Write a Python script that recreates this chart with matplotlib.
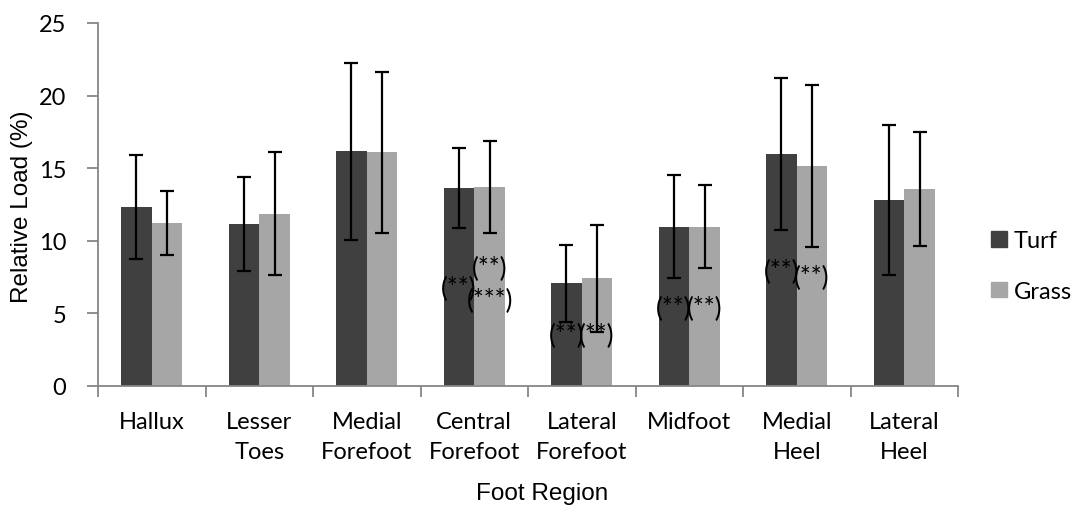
import numpy as np
from matplotlib import pyplot as plt
from matplotlib.patches import Patch

# relative load per foot region, mean and SD for both surfaces
regions = ["Hallux", "Lesser\nToes", "Medial\nForefoot", "Central\nForefoot",
           "Lateral\nForefoot", "Midfoot", "Medial\nHeel", "Lateral\nHeel"]
turf_mean = [12.3, 11.15, 16.15, 13.6, 7.05, 10.95, 15.95, 12.8]
turf_sd = [3.6, 3.25, 6.1, 2.75, 2.65, 3.55, 5.25, 5.2]
grass_mean = [11.2, 11.85, 16.1, 13.7, 7.4, 10.95, 15.15, 13.55]
grass_sd = [2.2, 4.25, 5.55, 3.2, 3.7, 2.85, 5.6, 3.95]

# significance marks: (region index, series, y position, text)
sig_marks = [
    (3, "turf", 6.67, "(**)"),
    (3, "grass", 8.05, "(**)"),
    (3, "grass", 5.85, "(***)"),
    (4, "turf", 3.45, "(**)"),
    (4, "grass", 3.45, "(**)"),
    (5, "turf", 5.35, "(**)"),
    (5, "grass", 5.35, "(**)"),
    (6, "turf", 7.9, "(**)"),
    (6, "grass", 7.43, "(**)"),
]

TURF_C = "#404040"
GRASS_C = "#a6a6a6"
AXIS_C = "#868686"
LABEL_FONT = ["Lato", "DejaVu Sans"]
TITLE_FONT = ["Liberation Sans", "DejaVu Sans"]
FS = 17

fig = plt.figure(figsize=(10.86, 5.06), dpi=100)
ax = fig.add_axes([98 / 1086, 1 - 386.7 / 506, 860 / 1086, 362.7 / 506])

x = np.arange(len(regions))
w = 0.285
err_kw = dict(ecolor="black", elinewidth=1.6, capsize=5, capthick=1.6)
ax.bar(x - w / 2, turf_mean, w, color=TURF_C, yerr=turf_sd, error_kw=err_kw,
       label="Turf", zorder=2)
ax.bar(x + w / 2, grass_mean, w, color=GRASS_C, yerr=grass_sd, error_kw=err_kw,
       label="Grass", zorder=2)

for i, series, y, txt in sig_marks:
    xc = x[i] - w / 2 if series == "turf" else x[i] + w / 2
    ax.text(xc, y, txt, ha="center", va="center", fontsize=18.5,
            family=LABEL_FONT, color="black", zorder=4)

ax.set_xlim(-0.5, len(regions) - 0.5)
ax.set_ylim(0, 25)
ax.set_yticks([0, 5, 10, 15, 20, 25])

# category labels sit between boundary ticks
ax.set_xticks(np.arange(len(regions) + 1) - 0.5)
ax.set_xticklabels([])
ax.set_xticks(x, minor=True)
ax.set_xticklabels(regions, minor=True, family=LABEL_FONT, fontsize=FS,
                   linespacing=1.55)
ax.tick_params(axis="x", which="minor", length=0, pad=18)
ax.tick_params(axis="x", which="major", length=8, width=1.3, color=AXIS_C)
ax.tick_params(axis="y", length=8, width=1.3, color=AXIS_C, pad=15,
               labelsize=FS)
for lab in ax.get_yticklabels():
    lab.set_family(LABEL_FONT)

for side in ["top", "right"]:
    ax.spines[side].set_visible(False)
for side in ["left", "bottom"]:
    ax.spines[side].set_color(AXIS_C)
    ax.spines[side].set_linewidth(1.3)

ax.set_ylabel("Relative Load (%)", family=TITLE_FONT, fontsize=17.5)
ax.yaxis.set_label_coords(-0.088, 0.497)
ax.yaxis.label.set_va("center")
ax.set_xlabel("Foot Region", family=TITLE_FONT, fontsize=17.5)
ax.xaxis.set_label_coords(0.517, -0.295)
ax.xaxis.label.set_va("center")

handles = [Patch(color=TURF_C), Patch(color=GRASS_C)]
fig.legend(handles, ["Turf", "Grass"], loc="center left",
           bbox_to_anchor=(982 / 1086, 1 - 267 / 506), frameon=False,
           prop={"family": LABEL_FONT, "size": FS}, handlelength=0.65,
           handleheight=0.65, handletextpad=0.3, labelspacing=1.25,
           borderaxespad=0)

fig.savefig("out.png", dpi=100)
